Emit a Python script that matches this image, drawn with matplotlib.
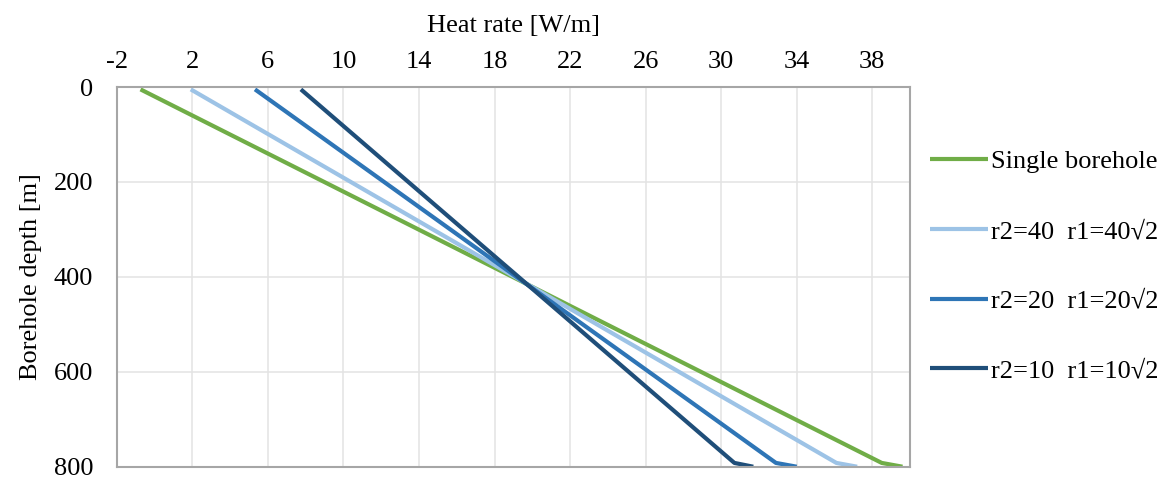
import numpy as np
import matplotlib.pyplot as plt

plt.rcParams['font.family'] = ['Liberation Serif', 'DejaVu Serif']
plt.rcParams['axes.unicode_minus'] = False

# depth points [m] and heat rate [W/m] per series
depth = [5, 792, 800]
single = [-0.74, 38.5, 39.6]
r40 = [1.92, 36.1, 37.2]
r20 = [5.32, 32.9, 34.0]
r10 = [7.75, 30.7, 31.7]

labels = ['Single borehole', 'r2=40  r1=40\u221a2', 'r2=20  r1=20\u221a2', 'r2=10  r1=10\u221a2']
colors = ['#70AD47', '#9DC3E6', '#2E75B6', '#1F4E79']

xticks = np.arange(-2, 39, 4)
yticks = [0, 200, 400, 600, 800]

fig = plt.figure(figsize=(11.66, 4.82), dpi=100)
ax = fig.add_axes([0.1001, 0.0317, 0.6804, 0.7878])

for vals, lab, c in zip([single, r40, r20, r10], labels, colors):
    ax.plot(vals, depth, color=c, lw=3, label=lab, solid_capstyle='butt')

ax.set_xlim(-2, 40)
ax.set_ylim(800, 0)
ax.set_xticks(xticks)
ax.set_yticks(yticks)
ax.xaxis.tick_top()
ax.xaxis.set_label_position('top')
ax.tick_params(axis='both', length=0, labelsize=19)
ax.tick_params(axis='x', pad=10)
ax.tick_params(axis='y', pad=17)
ax.grid(True, color='#E3E3E3', lw=1.1)
ax.set_axisbelow(True)
for s in ax.spines.values():
    s.set_color('#A6A6A6')
    s.set_linewidth(1.5)

ax.set_xlabel('Heat rate [W/m]', fontsize=19, labelpad=14)
ax.set_ylabel('Borehole depth [m]', fontsize=19, labelpad=8)

ax.legend(loc='center left', bbox_to_anchor=(0.995, 0.528), frameon=False,
          fontsize=19, handlelength=2.2, handletextpad=0.1, labelspacing=1.75)

fig.savefig('out.png', dpi=100)
